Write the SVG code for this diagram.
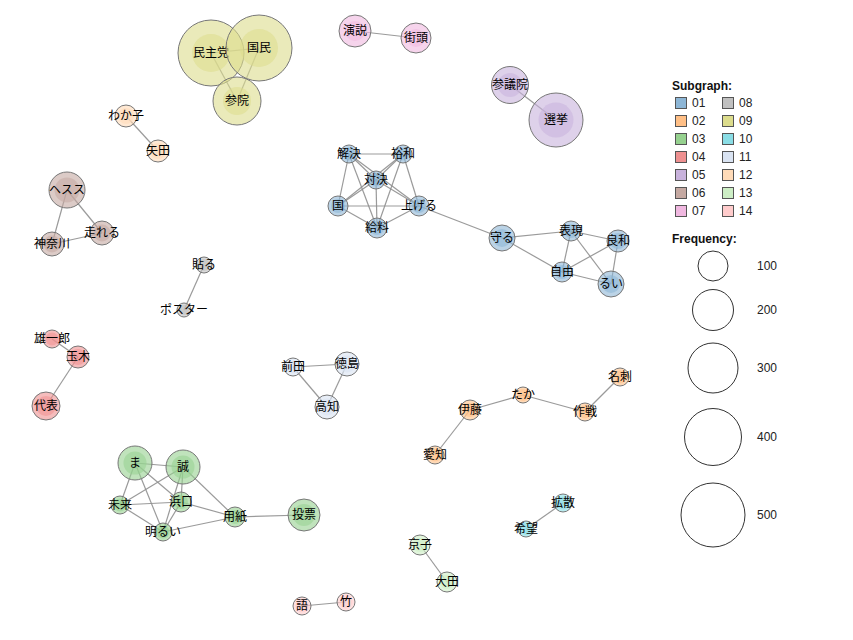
<svg xmlns="http://www.w3.org/2000/svg" width="853" height="640" viewBox="0 0 853 640">
<style>
.bg{fill:#fff}
.e line{stroke:#8f8f8f;stroke-width:1.2;stroke-opacity:.9}
.o{fill-opacity:.6;stroke:#777;stroke-width:1}
.i{fill-opacity:.55;stroke:none}
.n text{font-family:"Noto Sans CJK JP","Noto Sans",sans-serif;font-size:12px;fill:#000;text-anchor:middle}
.s01{fill:#8DB6D6}.s02{fill:#FFBF86}.s03{fill:#96D18F}.s04{fill:#EE9090}.s05{fill:#C8B2DC}.s06{fill:#C5A9A2}.s07{fill:#F0B8E0}
.s08{fill:#C0C0C0}.s09{fill:#DCDC8C}.s10{fill:#8ADDE5}.s11{fill:#D9E3F2}.s12{fill:#FFDBB8}.s13{fill:#CDEEC5}.s14{fill:#FFCCCC}
.lg text{font-family:"Liberation Sans",Arial,sans-serif;font-size:12px;fill:#222}
.lg .t{font-weight:bold;fill:#111}
.lg rect{stroke:#555;stroke-width:1}
.lg circle{fill:none;stroke:#333;stroke-width:1}
</style>
<rect class="bg" x="0" y="0" width="853" height="640"/>
<g id="edges" class="e">
<line x1="211" y1="53" x2="259" y2="48"/>
<line x1="211" y1="53" x2="237" y2="101"/>
<line x1="259" y1="48" x2="237" y2="101"/>
<line x1="355" y1="31" x2="416" y2="38"/>
<line x1="510" y1="85" x2="556" y2="120"/>
<line x1="126" y1="116" x2="158" y2="151"/>
<line x1="67" y1="190" x2="102" y2="233"/>
<line x1="67" y1="190" x2="52" y2="244"/>
<line x1="102" y1="233" x2="52" y2="244"/>
<line x1="204" y1="265" x2="184" y2="310"/>
<line x1="52" y1="339" x2="78" y2="357"/>
<line x1="78" y1="357" x2="46" y2="406"/>
<line x1="293" y1="367" x2="347" y2="364"/>
<line x1="293" y1="367" x2="327" y2="407"/>
<line x1="347" y1="364" x2="327" y2="407"/>
<line x1="470" y1="410" x2="523" y2="395"/>
<line x1="523" y1="395" x2="585" y2="412"/>
<line x1="585" y1="412" x2="620" y2="377"/>
<line x1="470" y1="410" x2="435" y2="455"/>
<line x1="563" y1="503" x2="526" y2="529"/>
<line x1="420" y1="545" x2="447" y2="582"/>
<line x1="302" y1="606" x2="346" y2="602"/>
<line x1="135" y1="463" x2="183" y2="467"/>
<line x1="135" y1="463" x2="120" y2="505"/>
<line x1="135" y1="463" x2="181" y2="502"/>
<line x1="135" y1="463" x2="163" y2="532"/>
<line x1="183" y1="467" x2="120" y2="505"/>
<line x1="183" y1="467" x2="181" y2="502"/>
<line x1="183" y1="467" x2="163" y2="532"/>
<line x1="183" y1="467" x2="235" y2="517"/>
<line x1="120" y1="505" x2="181" y2="502"/>
<line x1="120" y1="505" x2="163" y2="532"/>
<line x1="181" y1="502" x2="163" y2="532"/>
<line x1="181" y1="502" x2="235" y2="517"/>
<line x1="163" y1="532" x2="235" y2="517"/>
<line x1="235" y1="517" x2="304" y2="515"/>
<line x1="349" y1="154" x2="403" y2="154"/>
<line x1="349" y1="154" x2="376" y2="180"/>
<line x1="349" y1="154" x2="338" y2="206"/>
<line x1="349" y1="154" x2="377" y2="228"/>
<line x1="349" y1="154" x2="419" y2="206"/>
<line x1="403" y1="154" x2="376" y2="180"/>
<line x1="403" y1="154" x2="338" y2="206"/>
<line x1="403" y1="154" x2="419" y2="206"/>
<line x1="403" y1="154" x2="377" y2="228"/>
<line x1="376" y1="180" x2="338" y2="206"/>
<line x1="376" y1="180" x2="377" y2="228"/>
<line x1="376" y1="180" x2="419" y2="206"/>
<line x1="338" y1="206" x2="419" y2="206"/>
<line x1="338" y1="206" x2="377" y2="228"/>
<line x1="377" y1="228" x2="419" y2="206"/>
<line x1="419" y1="206" x2="502" y2="238"/>
<line x1="502" y1="238" x2="571" y2="231"/>
<line x1="502" y1="238" x2="562" y2="272"/>
<line x1="571" y1="231" x2="618" y2="241"/>
<line x1="571" y1="231" x2="562" y2="272"/>
<line x1="571" y1="231" x2="611" y2="284"/>
<line x1="618" y1="241" x2="562" y2="272"/>
<line x1="618" y1="241" x2="611" y2="284"/>
<line x1="562" y1="272" x2="611" y2="284"/>
</g>
<g id="nodes" class="n">
<g id="n-minshuto" class="s09"><circle class="o" cx="211" cy="53" r="33"/><circle class="i" cx="211" cy="53" r="19"/><text x="211" y="57">民主党</text></g>
<g id="n-kokumin" class="s09"><circle class="o" cx="259" cy="48" r="33"/><circle class="i" cx="259" cy="48" r="19"/><text x="259" y="52">国民</text></g>
<g id="n-sanin" class="s09"><circle class="o" cx="237" cy="101" r="24"/><circle class="i" cx="237" cy="101" r="14"/><text x="237" y="105">参院</text></g>
<g id="n-enzetsu" class="s07"><circle class="o" cx="355" cy="31" r="16"/><circle class="i" cx="355" cy="31" r="10"/><text x="355" y="35">演説</text></g>
<g id="n-gaito" class="s07"><circle class="o" cx="416" cy="38" r="15"/><circle class="i" cx="416" cy="38" r="9"/><text x="416" y="42">街頭</text></g>
<g id="n-sangiin" class="s05"><circle class="o" cx="510" cy="85" r="18.5"/><circle class="i" cx="510" cy="85" r="12"/><text x="510" y="89">参議院</text></g>
<g id="n-senkyo" class="s05"><circle class="o" cx="556" cy="120" r="27"/><circle class="i" cx="556" cy="120" r="17.5"/><text x="556" y="124">選挙</text></g>
<g id="n-wakako" class="s12"><circle class="o" cx="126" cy="116" r="11"/><circle class="i" cx="126" cy="116" r="8"/><text x="126" y="120">わか子</text></g>
<g id="n-yada" class="s12"><circle class="o" cx="158" cy="151" r="11"/><circle class="i" cx="158" cy="151" r="8"/><text x="158" y="155">矢田</text></g>
<g id="n-hesusu" class="s06"><circle class="o" cx="67" cy="190" r="18"/><circle class="i" cx="67" cy="190" r="12.5"/><text x="67" y="194">ヘスス</text></g>
<g id="n-hashireru" class="s06"><circle class="o" cx="102" cy="233" r="12"/><circle class="i" cx="102" cy="233" r="8.5"/><text x="102" y="237">走れる</text></g>
<g id="n-kanagawa" class="s06"><circle class="o" cx="52" cy="244" r="12"/><circle class="i" cx="52" cy="244" r="8.5"/><text x="52" y="248">神奈川</text></g>
<g id="n-haru" class="s08"><circle class="o" cx="204" cy="265" r="8"/><circle class="i" cx="204" cy="265" r="6"/><text x="204" y="269">貼る</text></g>
<g id="n-poster" class="s08"><circle class="o" cx="184" cy="310" r="7"/><circle class="i" cx="184" cy="310" r="5"/><text x="184" y="314">ポスター</text></g>
<g id="n-yuichiro" class="s04"><circle class="o" cx="52" cy="339" r="9"/><circle class="i" cx="52" cy="339" r="6.5"/><text x="52" y="343">雄一郎</text></g>
<g id="n-tamaki" class="s04"><circle class="o" cx="78" cy="357" r="11"/><circle class="i" cx="78" cy="357" r="8"/><text x="78" y="361">玉木</text></g>
<g id="n-daihyo" class="s04"><circle class="o" cx="46" cy="406" r="14"/><circle class="i" cx="46" cy="406" r="10"/><text x="46" y="410">代表</text></g>
<g id="n-maeda" class="s11"><circle class="o" cx="293" cy="367" r="9"/><circle class="i" cx="293" cy="367" r="6.5"/><text x="293" y="371">前田</text></g>
<g id="n-tokushima" class="s11"><circle class="o" cx="347" cy="364" r="12"/><circle class="i" cx="347" cy="364" r="8.5"/><text x="347" y="368">徳島</text></g>
<g id="n-kochi" class="s11"><circle class="o" cx="327" cy="407" r="12"/><circle class="i" cx="327" cy="407" r="8.5"/><text x="327" y="411">高知</text></g>
<g id="n-ito" class="s02"><circle class="o" cx="470" cy="410" r="10"/><circle class="i" cx="470" cy="410" r="7"/><text x="470" y="414">伊藤</text></g>
<g id="n-taka" class="s02"><circle class="o" cx="523" cy="395" r="8"/><circle class="i" cx="523" cy="395" r="6"/><text x="523" y="399">たか</text></g>
<g id="n-sakusen" class="s02"><circle class="o" cx="585" cy="412" r="9"/><circle class="i" cx="585" cy="412" r="6.5"/><text x="585" y="416">作戦</text></g>
<g id="n-meishi" class="s02"><circle class="o" cx="620" cy="377" r="9"/><circle class="i" cx="620" cy="377" r="6.5"/><text x="620" y="381">名刺</text></g>
<g id="n-aichi" class="s02"><circle class="o" cx="435" cy="455" r="9"/><circle class="i" cx="435" cy="455" r="6.5"/><text x="435" y="459">愛知</text></g>
<g id="n-kakusan" class="s10"><circle class="o" cx="563" cy="503" r="9"/><circle class="i" cx="563" cy="503" r="6.5"/><text x="563" y="507">拡散</text></g>
<g id="n-kibo" class="s10"><circle class="o" cx="526" cy="529" r="8"/><circle class="i" cx="526" cy="529" r="6"/><text x="526" y="533">希望</text></g>
<g id="n-kyoko" class="s13"><circle class="o" cx="420" cy="545" r="10"/><circle class="i" cx="420" cy="545" r="7"/><text x="420" y="549">京子</text></g>
<g id="n-ota" class="s13"><circle class="o" cx="447" cy="582" r="10"/><circle class="i" cx="447" cy="582" r="7"/><text x="447" y="586">大田</text></g>
<g id="n-go" class="s14"><circle class="o" cx="302" cy="606" r="9"/><circle class="i" cx="302" cy="606" r="6.5"/><text x="302" y="610">語</text></g>
<g id="n-take" class="s14"><circle class="o" cx="346" cy="602" r="9"/><circle class="i" cx="346" cy="602" r="6.5"/><text x="346" y="606">竹</text></g>
<g id="n-ma" class="s03"><circle class="o" cx="135" cy="463" r="17"/><circle class="i" cx="135" cy="463" r="11.5"/><text x="135" y="467">ま</text></g>
<g id="n-makoto" class="s03"><circle class="o" cx="183" cy="467" r="17"/><circle class="i" cx="183" cy="467" r="11.5"/><text x="183" y="471">誠</text></g>
<g id="n-mirai" class="s03"><circle class="o" cx="120" cy="505" r="9"/><circle class="i" cx="120" cy="505" r="6.5"/><text x="120" y="509">未来</text></g>
<g id="n-hamaguchi" class="s03"><circle class="o" cx="181" cy="502" r="10"/><circle class="i" cx="181" cy="502" r="7"/><text x="181" y="506">浜口</text></g>
<g id="n-akarui" class="s03"><circle class="o" cx="163" cy="532" r="9"/><circle class="i" cx="163" cy="532" r="6.5"/><text x="163" y="536">明るい</text></g>
<g id="n-yoshi" class="s03"><circle class="o" cx="235" cy="517" r="10"/><circle class="i" cx="235" cy="517" r="7"/><text x="235" y="521">用紙</text></g>
<g id="n-tohyo" class="s03"><circle class="o" cx="304" cy="515" r="16"/><circle class="i" cx="304" cy="515" r="11"/><text x="304" y="519">投票</text></g>
<g id="n-kaiketsu" class="s01"><circle class="o" cx="349" cy="154" r="9"/><circle class="i" cx="349" cy="154" r="6.5"/><text x="349" y="158">解決</text></g>
<g id="n-hirokazu" class="s01"><circle class="o" cx="403" cy="154" r="9"/><circle class="i" cx="403" cy="154" r="6.5"/><text x="403" y="158">裕和</text></g>
<g id="n-taiketsu" class="s01"><circle class="o" cx="376" cy="180" r="9"/><circle class="i" cx="376" cy="180" r="6.5"/><text x="376" y="184">対決</text></g>
<g id="n-kuni" class="s01"><circle class="o" cx="338" cy="206" r="10"/><circle class="i" cx="338" cy="206" r="7"/><text x="338" y="210">国</text></g>
<g id="n-ageru" class="s01"><circle class="o" cx="419" cy="206" r="10"/><circle class="i" cx="419" cy="206" r="7"/><text x="419" y="210">上げる</text></g>
<g id="n-kyuryo" class="s01"><circle class="o" cx="377" cy="228" r="10"/><circle class="i" cx="377" cy="228" r="7"/><text x="377" y="232">給料</text></g>
<g id="n-mamoru" class="s01"><circle class="o" cx="502" cy="238" r="13"/><circle class="i" cx="502" cy="238" r="9"/><text x="502" y="242">守る</text></g>
<g id="n-hyogen" class="s01"><circle class="o" cx="571" cy="231" r="10"/><circle class="i" cx="571" cy="231" r="7"/><text x="571" y="235">表現</text></g>
<g id="n-yoshikazu" class="s01"><circle class="o" cx="618" cy="241" r="11"/><circle class="i" cx="618" cy="241" r="8"/><text x="618" y="245">良和</text></g>
<g id="n-jiyu" class="s01"><circle class="o" cx="562" cy="272" r="10"/><circle class="i" cx="562" cy="272" r="7"/><text x="562" y="276">自由</text></g>
<g id="n-rui" class="s01"><circle class="o" cx="611" cy="284" r="13"/><circle class="i" cx="611" cy="284" r="9"/><text x="611" y="288">るい</text></g>
</g>
<g id="legend" class="lg">
<text class="t" x="672" y="90">Subgraph:</text>
<rect class="s01" x="675.5" y="97.5" width="11" height="11"/><text x="692" y="107">01</text>
<rect class="s02" x="675.5" y="115.5" width="11" height="11"/><text x="692" y="125">02</text>
<rect class="s03" x="675.5" y="133.5" width="11" height="11"/><text x="692" y="143">03</text>
<rect class="s04" x="675.5" y="151.5" width="11" height="11"/><text x="692" y="161">04</text>
<rect class="s05" x="675.5" y="169.5" width="11" height="11"/><text x="692" y="179">05</text>
<rect class="s06" x="675.5" y="187.5" width="11" height="11"/><text x="692" y="197">06</text>
<rect class="s07" x="675.5" y="205.5" width="11" height="11"/><text x="692" y="215">07</text>
<rect class="s08" x="722.5" y="97.5" width="11" height="11"/><text x="739" y="107">08</text>
<rect class="s09" x="722.5" y="115.5" width="11" height="11"/><text x="739" y="125">09</text>
<rect class="s10" x="722.5" y="133.5" width="11" height="11"/><text x="739" y="143">10</text>
<rect class="s11" x="722.5" y="151.5" width="11" height="11"/><text x="739" y="161">11</text>
<rect class="s12" x="722.5" y="169.5" width="11" height="11"/><text x="739" y="179">12</text>
<rect class="s13" x="722.5" y="187.5" width="11" height="11"/><text x="739" y="197">13</text>
<rect class="s14" x="722.5" y="205.5" width="11" height="11"/><text x="739" y="215">14</text>
<text class="t" x="672" y="243">Frequency:</text>
<circle cx="713" cy="266" r="15"/><text x="757" y="270">100</text>
<circle cx="713" cy="310" r="20.5"/><text x="757" y="314">200</text>
<circle cx="713" cy="368" r="25"/><text x="757" y="372">300</text>
<circle cx="713" cy="437" r="28.5"/><text x="757" y="441">400</text>
<circle cx="713" cy="515" r="32"/><text x="757" y="519">500</text>
</g>
</svg>
